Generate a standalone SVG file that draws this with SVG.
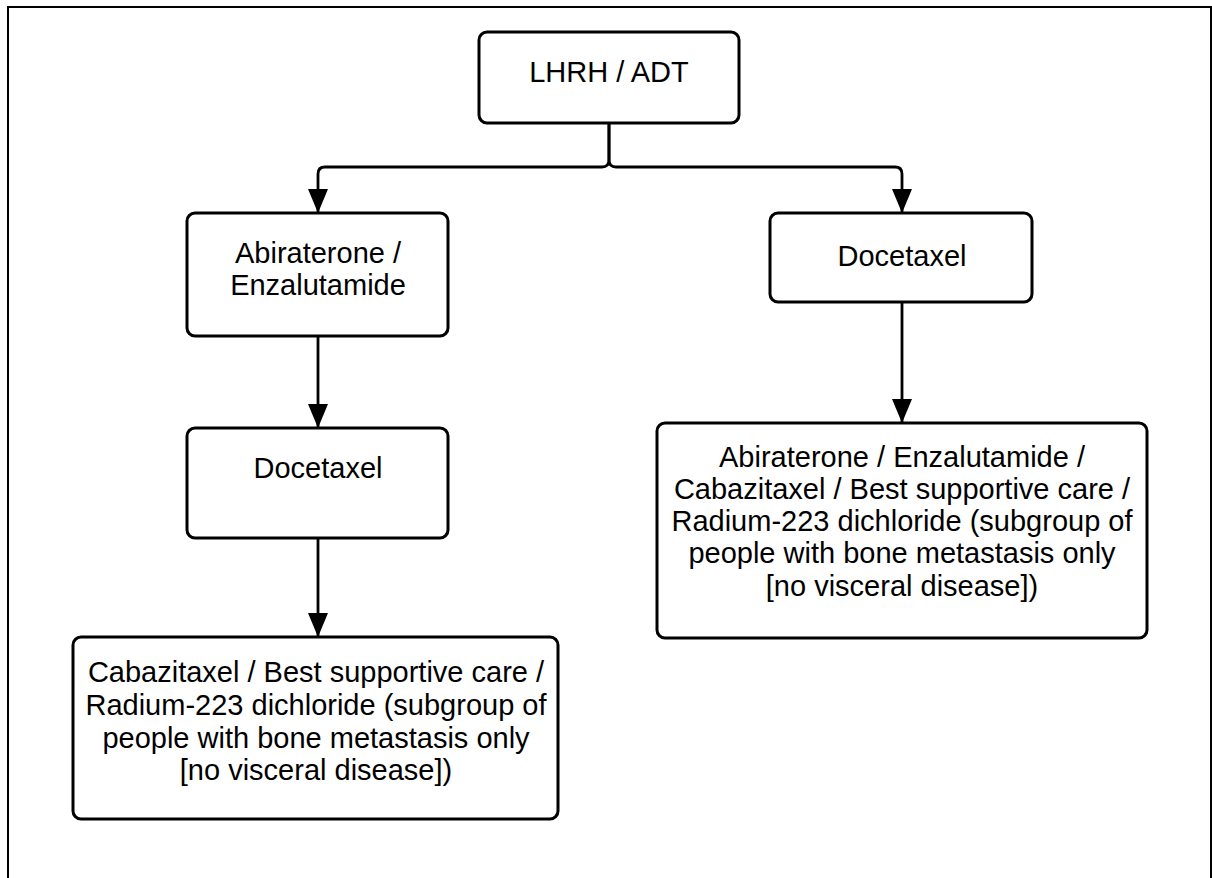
<svg xmlns="http://www.w3.org/2000/svg" width="1212" height="878" viewBox="0 0 1212 878">
<style>
.box{fill:#fff;stroke:#000;stroke-width:3}
.t{font-family:"Liberation Sans",Arial,sans-serif;font-size:29px;fill:#000;text-anchor:middle}
.c{fill:none;stroke:#000;stroke-width:2.8}
</style>
<defs>
<marker id="a" markerWidth="24" markerHeight="20" refX="24" refY="10" orient="auto" markerUnits="userSpaceOnUse" viewBox="0 0 24 20">
<path d="M0,0 L24,10 L0,20 Z" fill="#000"/>
</marker>
</defs>
<rect x="0" y="0" width="1212" height="878" fill="#fff"/>
<rect x="8" y="7" width="1203" height="900" fill="none" stroke="#000" stroke-width="2"/>
<g id="connectors">
<path class="c" d="M609,123 V160 Q609,167 602,167 H325 Q318,167 318,174 V213" marker-end="url(#a)"/>
<path class="c" d="M609,123 V160 Q609,167 616,167 H895 Q902,167 902,174 V213" marker-end="url(#a)"/>
<path class="c" d="M318,336 V428" marker-end="url(#a)"/>
<path class="c" d="M318,538 V637" marker-end="url(#a)"/>
<path class="c" d="M902,302 V423" marker-end="url(#a)"/>
</g>
<g id="n1"><rect class="box" x="479" y="32" width="260" height="91" rx="8"/><text class="t" x="609" y="82">LHRH / ADT</text></g>
<g id="n2"><rect class="box" x="187" y="213" width="261" height="123" rx="8"/><text class="t" x="318" y="263">Abiraterone /</text><text class="t" x="318" y="295">Enzalutamide</text></g>
<g id="n3"><rect class="box" x="770" y="213" width="262" height="89" rx="8"/><text class="t" x="902" y="266">Docetaxel</text></g>
<g id="n4"><rect class="box" x="187" y="428" width="261" height="110" rx="8"/><text class="t" x="318" y="478">Docetaxel</text></g>
<g id="n5"><rect class="box" x="657" y="423" width="490" height="215" rx="8"/><text class="t" x="902" y="467">Abiraterone / Enzalutamide /</text><text class="t" x="902" y="499">Cabazitaxel / Best supportive care /</text><text class="t" x="902" y="531">Radium-223 dichloride (subgroup of</text><text class="t" x="902" y="563">people with bone metastasis only</text><text class="t" x="902" y="596">[no visceral disease])</text></g>
<g id="n6"><rect class="box" x="73" y="637" width="485" height="182" rx="8"/><text class="t" x="316" y="682">Cabazitaxel / Best supportive care /</text><text class="t" x="316" y="715">Radium-223 dichloride (subgroup of</text><text class="t" x="316" y="748">people with bone metastasis only</text><text class="t" x="316" y="780">[no visceral disease])</text></g>
</svg>
